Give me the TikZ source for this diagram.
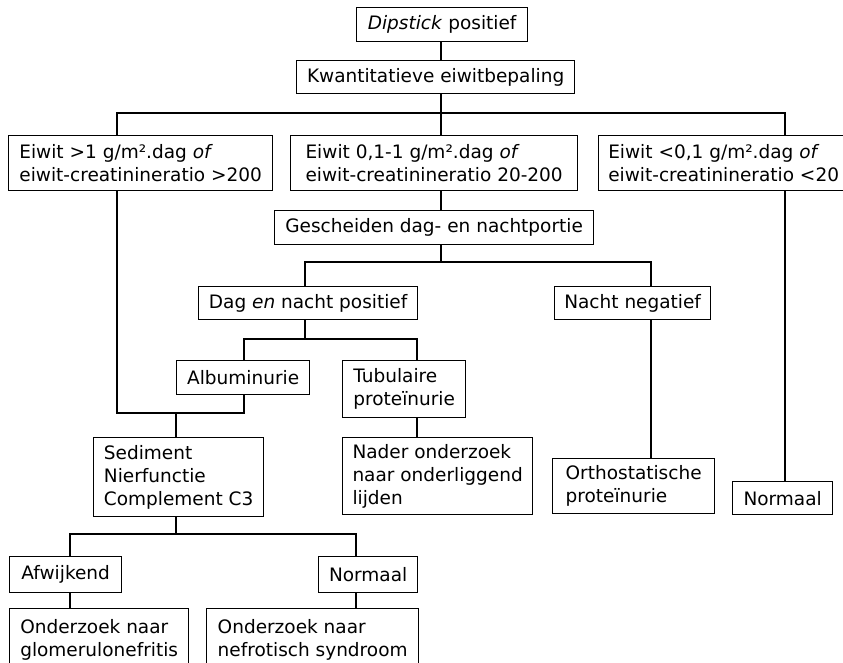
\documentclass[tikz,border=0pt]{standalone}
\usepackage{fontspec}
\setmainfont{DejaVu Sans}

\begin{document}
\begin{tikzpicture}[x=1pt,y=-1pt,line width=1.3pt,
    box/.style={draw, anchor=north west, align=left, inner xsep=9pt, inner ysep=0pt,
      font=\fontsize{18.5}{23}\selectfont}]
    \useasboundingbox (0,0) rectangle (843,662);

    % Top of the tree
    \node[box, minimum width=171pt, minimum height=34pt] (dip) at (356,7) {\textit{Dipstick} positief};
    \node[box, minimum width=278pt, minimum height=33pt] (kwant) at (296,60) {Kwantitatieve eiwitbepaling};

    % Three classes of protein loss
    \node[box, minimum width=264pt, minimum height=55pt] (hoog) at (8,135) {Eiwit >1 g/m².dag \textit{of}\\eiwit-creatinineratio >200};
    \node[box, minimum width=287pt, minimum height=55pt] (mid) at (290,135) {Eiwit 0,1-1 g/m².dag \textit{of}\\eiwit-creatinineratio 20-200};
    \node[box, minimum width=250pt, minimum height=55pt] (laag) at (598,135) {Eiwit <0,1 g/m².dag \textit{of}\\eiwit-creatinineratio <20};

    % Day and night portions
    \node[box, minimum width=319pt, minimum height=34pt] (gesch) at (274,210) {Gescheiden dag- en nachtportie};
    \node[box, minimum width=219pt, minimum height=33pt] (dag) at (198,286) {Dag \textit{en} nacht positief};
    \node[box, minimum width=156pt, minimum height=33pt] (nacht) at (554,286) {Nacht negatief};

    \node[box, minimum width=133pt, minimum height=34pt] (alb) at (176,360) {Albuminurie};
    \node[box, minimum width=123pt, minimum height=57pt] (tub) at (342,360) {Tubulaire\\proteïnurie};

    \node[box, minimum width=170pt, minimum height=79pt] (sed) at (93,437) {Sediment\\Nierfunctie\\Complement C3};
    \node[box, minimum width=190pt, minimum height=77pt] (nader) at (342,437) {Nader onderzoek\\naar onderliggend\\lijden};
    \node[box, minimum width=162pt, minimum height=55pt] (ortho) at (552,458) {Orthostatische\\proteïnurie};
    \node[box, minimum width=100pt, minimum height=33pt] (norm1) at (732,481) {Normaal};

    % Bottom row
    \node[box, minimum width=112pt, minimum height=36pt] (afw) at (9,556) {Afwijkend};
    \node[box, minimum width=99pt, minimum height=36pt] (norm2) at (318,556) {Normaal};
    \node[box, minimum width=179pt, minimum height=62pt] (glom) at (9,608) {Onderzoek naar\\glomerulonefritis};
    \node[box, minimum width=212pt, minimum height=62pt] (nefro) at (206,608) {Onderzoek naar\\nefrotisch syndroom};

    % Junction points
    \coordinate (j1) at (441,113);
    \coordinate (j1l) at (117,113);
    \coordinate (j1r) at (785,113);
    \coordinate (j2) at (441,262);
    \coordinate (j2l) at (305,262);
    \coordinate (j2r) at (651,262);
    \coordinate (j3l) at (244,339);
    \coordinate (j3r) at (417,339);
    \coordinate (j4) at (117,413);
    \coordinate (j4s) at (176,413);
    \coordinate (j5l) at (70,534);
    \coordinate (j5r) at (356,534);

    % Connectors
    \draw (j1 |- dip.south) -- (j1 |- kwant.north);
    \draw (j1 |- kwant.south) -- (j1);
    \draw (j1l |- hoog.north) -- (j1l) -- (j1r) -- (j1r |- laag.north);
    \draw (j1) -- (j1 |- mid.north);
    \draw (j1 |- mid.south) -- (j1 |- gesch.north);

    \draw (j2 |- gesch.south) -- (j2);
    \draw (j2l |- dag.north) -- (j2l) -- (j2r) -- (j2r |- nacht.north);
    \draw (j2l |- dag.south) -- (j2l |- j3l);
    \draw (j3l |- alb.north) -- (j3l) -- (j3r) -- (j3r |- tub.north);
    \draw (j3r |- tub.south) -- (j3r |- nader.north);

    \draw (j4 |- hoog.south) -- (j4) -- (j3l |- j4) -- (j3l |- alb.south);
    \draw (j4s) -- (j4s |- sed.north);
    \draw (j2r |- nacht.south) -- (j2r |- ortho.north);
    \draw (j1r |- laag.south) -- (j1r |- norm1.north);

    \draw (j4s |- sed.south) -- (j4s |- j5l);
    \draw (j5l |- afw.north) -- (j5l) -- (j5r) -- (j5r |- norm2.north);
    \draw (j5l |- afw.south) -- (j5l |- glom.north);
    \draw (j5r |- norm2.south) -- (j5r |- nefro.north);
\end{tikzpicture}
\end{document}
